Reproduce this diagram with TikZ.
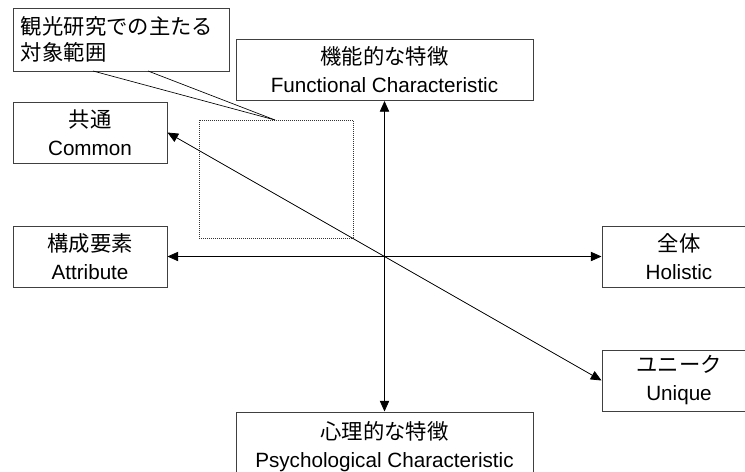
\documentclass[tikz,border=0pt]{standalone}
\usepackage{fontspec}
\setmainfont{Liberation Sans}
\newfontfamily\jpfont{Noto Sans CJK JP}
\usetikzlibrary{arrows.meta}
\newcommand{\jp}[1]{{\jpfont\fontsize{16}{21}\selectfont #1}}
\begin{document}
\begin{tikzpicture}[x=0.75pt,y=-0.75pt,
  box/.style={draw=black!75, line width=0.75pt, fill=white, align=center,
    inner sep=0pt, minimum width=115.5pt, minimum height=45.75pt,
    font=\fontsize{15.5}{21}\selectfont},
  widebox/.style={box, minimum width=222.75pt},
  tip/.style={Triangle[length=8pt,width=7pt]},
  axis/.style={line width=0.6pt, {Triangle[length=8pt,width=7pt]}-{Triangle[length=8pt,width=7pt]}},
  focus/.style={draw=black!80, densely dotted, line width=0.5pt,
    minimum width=115.5pt, minimum height=88.5pt, inner sep=0pt},
  callout/.style={draw=black!75, line width=0.75pt, fill=white, align=left,
    inner sep=0pt, minimum width=162pt, minimum height=47.25pt,
    text width=150pt, font=\fontsize{16}{19}\selectfont}]
\useasboundingbox (0,0) rectangle (745,471);
\clip (0,0) rectangle (745,471);
\fill[white] (0,0) rectangle (745,471);

% area studied most in tourism research
\node[focus] (area) at (276,179) {};
\coordinate (pointer) at (275,120);

% the six poles
\node[widebox] (func)   at (384.5,70)  {\jp{機能的な特徴}\\Functional Characteristic};
\node[widebox, minimum height=52.5pt] (psych) at (384.5,447) {\jp{心理的な特徴}\\Psychological Characteristic};
\node[box] (common) at (90,132.5)  {\jp{共通}\\Common};
\node[box] (attr)   at (90,256.5)  {\jp{構成要素}\\Attribute};
\node[box] (hol)    at (679,256.5) {\jp{全体}\\Holistic};
\node[box] (uniq)   at (679,380.5) {\jp{ユニーク}\\Unique};

% axes
\draw[axis] (func.south)  -- (psych.north);
\draw[axis] (attr.east)   -- (hol.west);
\draw[axis] (common.east) -- (uniq.west);

% callout
\node[callout] (note) at (121,39.5) {\jpfont 観光研究での主たる\\対象範囲};
\draw[line width=0.5pt] (93,71) -- (pointer);
\draw[line width=0.5pt] (148,71) -- (pointer);
\end{tikzpicture}
\end{document}
